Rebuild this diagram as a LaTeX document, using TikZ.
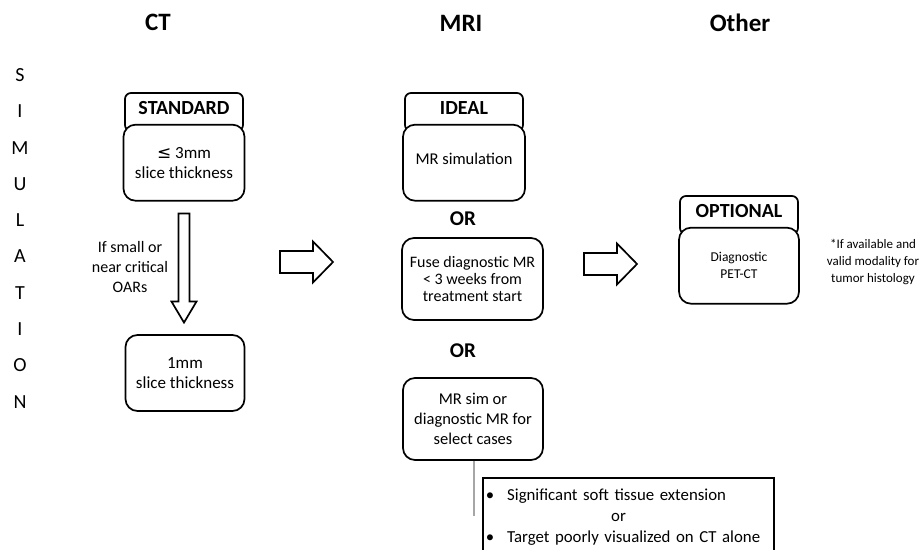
\documentclass[tikz,border=0pt]{standalone}
\usepackage{fontspec}
\setmainfont{Carlito}
\newfontfamily\symfont{DejaVu Sans}
\usetikzlibrary{positioning,calc}

\begin{document}
\begin{tikzpicture}[x=1pt,y=-1pt,
  heading/.style={anchor=base,font=\fontsize{25}{27}\selectfont\bfseries},
  simletter/.style={font=\fontsize{20}{22}\selectfont},
  tabbox/.style={draw,line width=1.7pt,rounded corners=6pt,minimum width=118pt,minimum height=38pt,inner sep=0pt,text height=13pt,text depth=8pt,font=\fontsize{20}{22}\selectfont\bfseries},
  stepbox/.style={draw,line width=1.7pt,rounded corners=12pt,fill=white,align=center,inner sep=2pt,font=\fontsize{16.5}{19}\selectfont},
  ortext/.style={font=\fontsize{21}{23}\selectfont\bfseries},
  bigarrow/.style={draw,line width=1.7pt,fill=white,line join=miter},
  feed/.style={draw=black!35,line width=2pt},
  casebox/.style={draw,line width=1.7pt,text width=285pt,inner xsep=3pt,inner ysep=8pt,font=\fontsize{16.8}{21}\selectfont},
  notetext/.style={align=center,font=\fontsize{13}{17}\selectfont},
  pics/rarrow/.style={code={\draw[bigarrow] (0,-11) -- (33,-11) -- (33,-20.5) -- (53,0) -- (33,20.5) -- (33,11) -- (0,11) -- cycle;}}
]
\useasboundingbox (0,0) rectangle (921,549);
\clip (0,0) rectangle (921,549);

\node[heading] (hct) at (158,30) {CT};
\node[heading] (hmri) at (461,31) {MRI};
\node[heading] (hother) at (740,31) {Other};

\foreach \ch [count=\i from 0] in {S,I,M,U,L,A,T,I,O,N}
  \node[simletter] (sim\i) at (20,75+36.3*\i) {\ch};

\node[tabbox] (stdtab) at (184,112) {STANDARD};
\node[stepbox,minimum width=121pt,minimum height=76pt,below=-8pt of stdtab,font=\fontsize{17}{20}\selectfont] (std) {{\symfont ≤} 3mm\\slice thickness};
\node[stepbox,minimum width=119pt,minimum height=76pt,font=\fontsize{17}{20}\selectfont] (thin) at (185,373) {1mm\\slice thickness};
\draw[bigarrow] ($(std.south)+(-5.5,12)$) -- ++(11,0) -- ++(0,88) -- ++(7,0) -- ++(-12.5,21) -- ++(-12.5,-21) -- ++(7,0) -- cycle;
\node[notetext,font=\fontsize{16}{20}\selectfont] (oars) at (130,267) {If small or\\near critical\\OARs};

\pic at (280,262) {rarrow};

\node[tabbox] (idealtab) at (464,112) {IDEAL};
\node[stepbox,minimum width=122pt,minimum height=76pt,below=-8pt of idealtab,text height=16pt,text depth=12pt] (mrsim) {MR simulation};
\node[ortext] (or1) at (463,219) {OR};
\node[stepbox,minimum width=141pt,minimum height=82pt,font=\fontsize{16}{17}\selectfont] (fuse) at (472.5,279) {Fuse diagnostic MR\\< 3 weeks from\\treatment start};
\node[ortext] (or2) at (463,351) {OR};
\node[stepbox,minimum width=140pt,minimum height=82pt,font=\fontsize{16.5}{20}\selectfont] (mrsel) at (473,419) {MR sim or\\diagnostic MR for\\select cases};
\coordinate (feedend) at (474,516);
\draw[feed] (mrsel.south -| feedend) -- (feedend);
\node[casebox,anchor=north west] (cases) at (482,477) {\begin{tabular}{@{}l@{\hspace{13pt}}l@{}}\textbullet & Significant soft tissue extension\\ & \hspace{104pt}or\\ \textbullet & Target poorly visualized on CT alone\end{tabular}};

\pic at (584,264) {rarrow};

\node[tabbox] (opttab) at (739,215) {OPTIONAL};
\node[stepbox,minimum width=120pt,minimum height=76pt,below=-8pt of opttab,font=\fontsize{13.5}{17}\selectfont] (pet) {Diagnostic\\PET-CT};
\node[notetext] (avail) at (873,262) {*If available and\\valid modality for\\tumor histology};
\end{tikzpicture}
\end{document}
